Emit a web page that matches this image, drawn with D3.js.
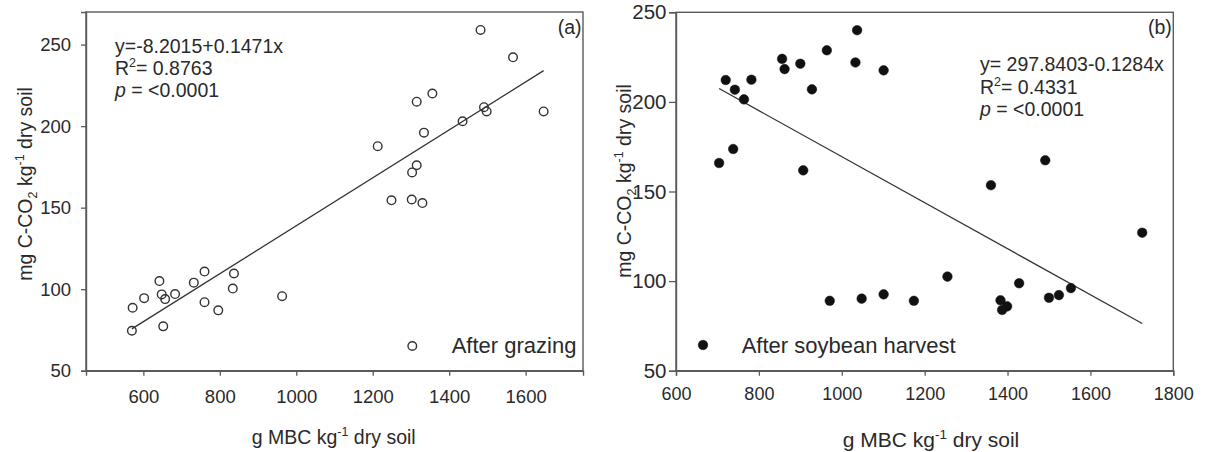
<!DOCTYPE html>
<html><head><meta charset="utf-8">
<script src="https://cdn.jsdelivr.net/npm/d3@7"></script>
<style>
body{margin:0;background:#fff;}
svg{display:block;font-family:"Liberation Sans",Arial,sans-serif;}
</style></head>
<body><svg id="c" width="1205" height="452"></svg>
<script>
// Panel (a): After grazing
const grazingX = [570,572,602,642,648,657,652,683,732,760,760,796,837,834,963,
  1213,1249,1482,1567,1315,1356,1491,1498,1435,1334,1647,1315,1303,1302,1330];
const grazingY = [74.5,88.6,94.5,105,96.8,93.9,77.2,97,104,110.8,92,87,109.6,100.4,95.7,
  187.7,154.5,259,242.2,215,220,211.6,209,203,196,209,176,171.6,155,152.8];
const fitA = {a:-8.2015, b:0.1471};
// Panel (b): After soybean harvest
const soyX = [704,720,742,738,764,782,856,862,900,928,907,964,1037,1033,1101,
  971,1048,1101,1491,1360,1725,1255,1174,1428,1383,1387,1399,1500,1524,1553];
const soyY = [165.9,212.2,206.8,173.7,201.4,212.4,224,218.3,221.3,207,161.8,228.8,240,222,217.6,
  89,90.2,92.6,167.4,153.5,127,102.5,89,98.8,89.3,83.9,85.9,90.7,92.2,96.1];
const fitB = {a:297.8403, b:-0.1284};
const ticksXA = [600,800,1000,1200,1400,1600];
const ticksYA = [50,100,150,200,250];
const ticksXB = [600,800,1000,1200,1400,1600,1800];
const ticksYB = [50,100,150,200,250];

const svg = d3.select("#c");
const AX = "#5a5a5a", TX = "#2a2a2a";

function panel(o){
  const g = svg.append("g");
  const x = d3.scaleLinear().domain(o.xd).range([o.l,o.r]);
  const y = d3.scaleLinear().domain(o.yd).range([o.b,o.t]);
  // frame
  g.append("rect").attr("x",o.l).attr("y",o.t).attr("width",o.r-o.l).attr("height",o.b-o.t)
    .attr("fill","none").attr("stroke",AX).attr("stroke-width",1.4);
  const xa = g.append("g").attr("transform",`translate(0,${o.b})`)
    .call(d3.axisBottom(x).tickValues(o.xt).tickSize(5).tickPadding(o.xpad).tickFormat(d3.format("d")));
  xa.selectAll("text").attr("font-size",o.xfs).attr("fill",TX);
  const ya = g.append("g").attr("transform",`translate(${o.l},0)`)
    .call(d3.axisLeft(y).tickValues(o.yt).tickSize(o.yts).tickPadding(o.ypad).tickFormat(d3.format("d")));
  ya.selectAll("text").attr("font-size",o.yfs).attr("fill",TX);
  [xa,ya].forEach(a=>{a.select(".domain").attr("stroke",AX).attr("stroke-width",1.4);
    a.selectAll(".tick line").attr("stroke",AX).attr("stroke-width",1.3);
    a.attr("font-family",null);});
  // regression line
  const x0 = d3.min(o.xs), x1 = d3.max(o.xs);
  g.append("line").attr("x1",x(x0)).attr("y1",y(o.fit.a+o.fit.b*x0))
    .attr("x2",x(x1)).attr("y2",y(o.fit.a+o.fit.b*x1))
    .attr("stroke","#333").attr("stroke-width",1.3);
  // points
  g.selectAll("circle.pt").data(o.xs.map((v,i)=>[v,o.ys[i]])).join("circle")
    .attr("class","pt").attr("cx",d=>x(d[0])).attr("cy",d=>y(d[1])).attr("r",o.filled?4.8:4.3)
    .attr("fill",o.filled?"#111":"none").attr("stroke",o.filled?"#111":"#333").attr("stroke-width",o.filled?0.5:1.4);
  // legend
  g.append("circle").attr("cx",o.lgx).attr("cy",o.lgy).attr("r",o.filled?4.8:4.3)
    .attr("fill",o.filled?"#111":"none").attr("stroke",o.filled?"#111":"#333").attr("stroke-width",o.filled?0.5:1.4);
  g.append("text").attr("x",o.lgtx).attr("y",o.lgty).attr("font-size",22).attr("fill",TX).text(o.legend);
  // panel label
  g.append("text").attr("x",o.r-1.5).attr("y",o.t+21.5).attr("text-anchor","end").attr("font-size",19.5).attr("fill",TX).text(o.tag);
  // equation
  const eq = g.append("text").attr("font-size",19.5).attr("fill",TX);
  eq.append("tspan").attr("x",o.ex).attr("y",o.ey).text(o.eq);
  const r2 = g.append("text").attr("font-size",19.5).attr("fill",TX).attr("x",o.ex).attr("y",o.ey+22.5);
  r2.append("tspan").text("R");
  r2.append("tspan").attr("font-size",12.5).attr("dy",-8).text("2");
  r2.append("tspan").attr("dy",8).text("= "+o.r2);
  const pt = g.append("text").attr("font-size",19.5).attr("fill",TX).attr("x",o.ex).attr("y",o.ey+44.5);
  pt.append("tspan").attr("font-style","italic").text("p");
  pt.append("tspan").text(" = <0.0001");
  // axis titles
  const xt = g.append("text").attr("x",o.xtx).attr("y",o.xty).attr("text-anchor","middle").attr("font-size",o.xtfs).attr("fill",TX);
  xt.append("tspan").text("g MBC kg");
  xt.append("tspan").attr("font-size",o.xtfs*0.64).attr("dy",-8).text("-1");
  xt.append("tspan").attr("dy",8).text(" dry soil");
  const yt = g.append("text").attr("transform",`translate(${o.ytx},${o.yty}) rotate(-90)`)
    .attr("text-anchor","middle").attr("font-size",19.5).attr("fill",TX);
  yt.append("tspan").text("mg C-CO");
  yt.append("tspan").attr("font-size",12.5).attr("dy",5).text("2");
  yt.append("tspan").attr("dy",-5).text(" kg");
  yt.append("tspan").attr("font-size",12.5).attr("dy",-8).text("-1");
  yt.append("tspan").attr("dy",8).text(" dry soil");
}

panel({l:86,r:583,t:12,b:370.7,xd:[450,1750],yd:[50,270],xt:ticksXA,yt:ticksYA,
  xs:grazingX,ys:grazingY,fit:fitA,filled:false,xpad:14,xfs:18.5,yts:5,ypad:10,yfs:18.5,
  lgx:412.3,lgy:346,lgtx:451.7,lgty:353.3,legend:"After grazing",tag:"(a)",
  eq:"y=-8.2015+0.1471x",r2:"0.8763",ex:115,ey:52.7,
  xtx:333.7,xty:444,xtfs:19.5,ytx:32,yty:184});
panel({l:676,r:1173.3,t:12.3,b:370.7,xd:[600,1800],yd:[50,250],xt:ticksXB,yt:ticksYB,
  xs:soyX,ys:soyY,fit:fitB,filled:true,xpad:11.5,xfs:18,yts:7,ypad:2.5,yfs:20.5,
  lgx:703,lgy:345,lgtx:741.7,lgty:353,legend:"After soybean harvest",tag:"(b)",
  eq:"y= 297.8403-0.1284x",r2:"0.4331",ex:980,ey:71,
  xtx:931,xty:446.5,xtfs:21,ytx:631,yty:181});
</script></body></html>
